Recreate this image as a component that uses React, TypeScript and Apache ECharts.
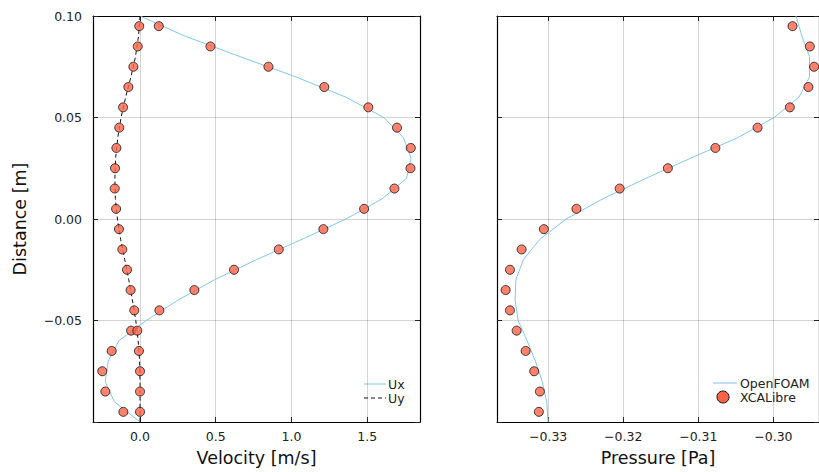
import React, { useEffect, useRef } from "react";
import * as echarts from "echarts";

// Distance positions of the XCALibre samples
const yMarkers = [0.095, 0.085, 0.075, 0.065, 0.055, 0.045, 0.035, 0.025, 0.015, 0.005, -0.005, -0.015, -0.025, -0.035, -0.045, -0.055, -0.065, -0.075, -0.085, -0.095];
const uxMarkers = [0.124, 0.465, 0.848, 1.217, 1.508, 1.697, 1.788, 1.786, 1.68, 1.48, 1.211, 0.916, 0.621, 0.359, 0.128, -0.059, -0.187, -0.249, -0.229, -0.11];
const uyMarkers = [-0.005, -0.015, -0.044, -0.077, -0.112, -0.137, -0.156, -0.165, -0.167, -0.158, -0.139, -0.117, -0.086, -0.062, -0.038, -0.018, -0.007, 0.0, 0.0, 0.0];
const pMarkers = [-0.29746, -0.29515, -0.29458, -0.29534, -0.29781, -0.30211, -0.30773, -0.31406, -0.32048, -0.32623, -0.33057, -0.33353, -0.33509, -0.33566, -0.33509, -0.3342, -0.333, -0.33186, -0.3311, -0.33124];

// OpenFOAM profiles
const yLine = [0.1, 0.09, 0.08, 0.07, 0.06, 0.05, 0.04, 0.03, 0.02, 0.01, 0.0, -0.01, -0.02, -0.03, -0.04, -0.05, -0.06, -0.07, -0.08, -0.09, -0.1];
const uxLine = [0.0, 0.3, 0.66, 1.03, 1.36, 1.61, 1.74, 1.79, 1.76, 1.6, 1.36, 1.07, 0.77, 0.49, 0.25, 0.04, -0.14, -0.21, -0.23, -0.17, 0.0];
const uyLine = [0.0, -0.01, -0.03, -0.06, -0.095, -0.125, -0.147, -0.161, -0.166, -0.163, -0.149, -0.128, -0.101, -0.074, -0.05, -0.028, -0.012, -0.003, 0.0, 0.0, 0.0];
const pLine = [-0.297, -0.2962, -0.2952, -0.2952, -0.2966, -0.2999, -0.3048, -0.311, -0.317, -0.3227, -0.3276, -0.3311, -0.3333, -0.3343, -0.3344, -0.334, -0.3328, -0.3317, -0.3308, -0.3302, -0.33];

// Ticks
const velocityTicks = [0.0, 0.5, 1.0, 1.5];
const pressureTicks = [-0.33, -0.32, -0.31, -0.3];

const FONT = "DejaVu Sans";
const BLUE = "#82c6f2";
const RED = "#ff6347";
const GRIDC = "rgba(0,0,0,0.17)";

const fmt = (v: number, d: number) => {
  const s = Math.abs(v).toFixed(d);
  return (v < -1e-9 ? "\u2212" : "") + s;
};

const zip = (xs: number[], ys: number[]) => xs.map((x, i) => [x, ys[i]]);

export default function App() {
  const ref = useRef<HTMLDivElement>(null);
  useEffect(() => {
    if (!ref.current) return;
    const chart = echarts.init(ref.current, null, { renderer: "svg" });
    const axisLine = { show: true, onZero: false, lineStyle: { color: "#000", width: 1.2 } };
    const tickStyle = { color: "#222", width: 1 };
    const labelStyle = { fontFamily: FONT, fontSize: 12.5, color: "#222" };
    const nameStyle = { fontFamily: FONT, fontSize: 17.5, color: "#111" };

    const xBase = (grid: number, min: number, max: number, ticks: number[], d: number, name: string) => ({
      type: "value",
      gridIndex: grid,
      min,
      max,
      position: "bottom",
      name,
      nameLocation: "middle",
      nameGap: 27,
      nameTextStyle: nameStyle,
      axisLine,
      axisTick: { show: true, inside: true, length: 5, lineStyle: tickStyle, customValues: ticks },
      axisLabel: { ...labelStyle, margin: 8, customValues: ticks, formatter: (v: number) => fmt(v, d) },
      splitLine: { show: true, lineStyle: { color: GRIDC, width: 1 } },
    });
    const xTop = (grid: number, min: number, max: number, ticks: number[]) => ({
      type: "value",
      gridIndex: grid,
      min,
      max,
      position: "top",
      axisLine,
      axisTick: { show: true, inside: true, length: 5, lineStyle: tickStyle, customValues: ticks },
      axisLabel: { show: false },
      splitLine: { show: false },
    });
    const yBase = (grid: number, showLabels: boolean, name: string) => ({
      type: "value",
      gridIndex: grid,
      min: -0.1,
      max: 0.1,
      interval: 0.05,
      position: "left",
      name,
      nameLocation: "middle",
      nameGap: 64,
      nameTextStyle: nameStyle,
      axisLine,
      axisTick: { show: true, inside: true, length: 5, lineStyle: tickStyle },
      axisLabel: {
        show: showLabels,
        ...labelStyle,
        margin: 11,
        formatter: (v: number) => (Math.abs(v + 0.1) < 1e-9 ? "" : fmt(v, 2)),
      },
      splitLine: { show: true, lineStyle: { color: GRIDC, width: 1 } },
    });
    const yRight = (grid: number) => ({
      type: "value",
      gridIndex: grid,
      min: -0.1,
      max: 0.1,
      interval: 0.05,
      position: "right",
      axisLine,
      axisTick: { show: true, inside: true, length: 5, lineStyle: tickStyle },
      axisLabel: { show: false },
      splitLine: { show: false },
    });

    const scatterStyle = { color: RED, borderColor: "#111", borderWidth: 1 };

    chart.setOption({
      animation: false,
      backgroundColor: "#fff",
      grid: [
        { left: 93, top: 16, width: 327, height: 409 },
        { left: 497, top: 16, width: 323, height: 409 },
      ],
      xAxis: [
        xBase(0, -0.3105, 1.849, velocityTicks, 1, "Velocity [m/s]"),
        xTop(0, -0.3105, 1.849, velocityTicks),
        xBase(1, -0.336813, -0.293931, pressureTicks, 2, "Pressure [Pa]"),
        xTop(1, -0.336813, -0.293931, pressureTicks),
      ],
      yAxis: [yBase(0, true, "Distance [m]"), yRight(0), yBase(1, false, ""), yRight(1)],
      series: [
        {
          name: "Ux", type: "line", xAxisIndex: 0, yAxisIndex: 0, data: zip(uxLine, yLine),
          showSymbol: false, symbol: "none", lineStyle: { color: BLUE, width: 1 }, z: 2,
        },
        {
          name: "Uy", type: "line", xAxisIndex: 0, yAxisIndex: 0, data: zip(uyLine, yLine),
          showSymbol: false, symbol: "none", lineStyle: { color: "#111", width: 1, type: [4, 3] }, z: 2,
        },
        {
          name: "Ux XCALibre", type: "scatter", xAxisIndex: 0, yAxisIndex: 0, data: zip(uxMarkers, yMarkers),
          symbol: "circle", symbolSize: 9, itemStyle: scatterStyle, z: 3,
        },
        {
          name: "Uy XCALibre", type: "scatter", xAxisIndex: 0, yAxisIndex: 0, data: zip(uyMarkers, yMarkers),
          symbol: "circle", symbolSize: 9, itemStyle: scatterStyle, z: 3,
        },
        {
          name: "OpenFOAM", type: "line", xAxisIndex: 2, yAxisIndex: 2, data: zip(pLine, yLine),
          showSymbol: false, symbol: "none", lineStyle: { color: BLUE, width: 1 }, z: 2,
        },
        {
          name: "XCALibre", type: "scatter", xAxisIndex: 2, yAxisIndex: 2, data: zip(pMarkers, yMarkers),
          symbol: "circle", symbolSize: 9, itemStyle: scatterStyle, z: 3,
        },
      ],
      graphic: [
        { type: "line", shape: { x1: 364, y1: 384, x2: 386, y2: 384 }, style: { stroke: BLUE, lineWidth: 1 } },
        { type: "text", x: 388, y: 384, style: { text: "Ux", fontFamily: FONT, fontSize: 12.5, fill: "#222", verticalAlign: "middle" } },
        { type: "line", shape: { x1: 364, y1: 398, x2: 386, y2: 398 }, style: { stroke: "#111", lineWidth: 1, lineDash: [4, 3] } },
        { type: "text", x: 388, y: 398, style: { text: "Uy", fontFamily: FONT, fontSize: 12.5, fill: "#222", verticalAlign: "middle" } },
        { type: "line", shape: { x1: 713, y1: 383, x2: 737, y2: 383 }, style: { stroke: BLUE, lineWidth: 1 } },
        { type: "text", x: 740, y: 383, style: { text: "OpenFOAM", fontFamily: FONT, fontSize: 12.5, fill: "#222", verticalAlign: "middle" } },
        { type: "circle", shape: { cx: 723, cy: 397, r: 6 }, style: { fill: RED, stroke: "#111", lineWidth: 1 } },
        { type: "text", x: 740, y: 397, style: { text: "XCALibre", fontFamily: FONT, fontSize: 12.5, fill: "#222", verticalAlign: "middle" } },
      ],
    });
    return () => chart.dispose();
  }, []);
  return <div ref={ref} style={{ position: "fixed", left: 0, top: 0, width: 819, height: 472 }} />;
}
